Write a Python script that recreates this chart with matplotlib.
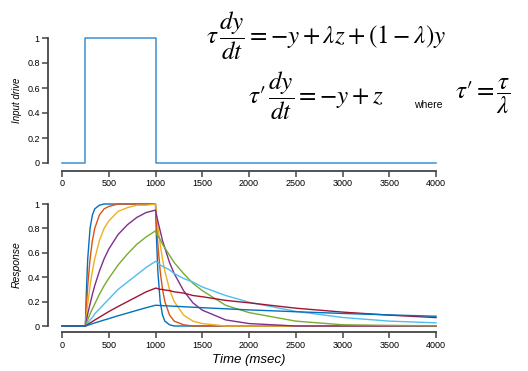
import matplotlib
matplotlib.use("Agg")
from matplotlib import pyplot as plt

plt.rcParams['font.family'] = ['Liberation Sans', 'DejaVu Sans']
plt.rcParams['mathtext.fontset'] = 'stix'

# input drive (step)
drive_t = [0, 250, 250, 1000, 1000, 4000]
drive_y = [0, 0, 1, 1, 0, 0]

# response time grid (msec)
t = [0, 250, 260, 275, 300, 325, 350, 400, 450, 500, 600, 700, 800, 900, 1000,
     1010, 1025, 1050, 1075, 1100, 1150, 1200, 1300, 1400, 1500,
     1750, 2000, 2500, 3000, 3500, 4000]

# responses, fastest to slowest
resp_1 = [0, 0, 0.27, 0.55, 0.80, 0.91, 0.96, 0.99, 1.0, 1.0, 1.0, 1.0, 1.0, 1.0, 1.0,
          0.73, 0.45, 0.20, 0.09, 0.04, 0.01, 0.0, 0.0, 0.0, 0.0,
          0.0, 0.0, 0.0, 0.0, 0.0, 0.0]
resp_2 = [0, 0, 0.15, 0.33, 0.55, 0.70, 0.80, 0.91, 0.96, 0.98, 1.0, 1.0, 1.0, 1.0, 1.0,
          0.85, 0.67, 0.45, 0.30, 0.20, 0.09, 0.04, 0.01, 0.0, 0.0,
          0.0, 0.0, 0.0, 0.0, 0.0, 0.0]
resp_3 = [0, 0, 0.08, 0.18, 0.33, 0.45, 0.55, 0.70, 0.80, 0.86, 0.94, 0.97, 0.99, 0.99, 1.0,
          0.92, 0.82, 0.67, 0.55, 0.45, 0.30, 0.20, 0.09, 0.04, 0.02,
          0.0, 0.0, 0.0, 0.0, 0.0, 0.0]
resp_4 = [0, 0, 0.04, 0.10, 0.18, 0.26, 0.33, 0.45, 0.55, 0.63, 0.75, 0.83, 0.89, 0.93, 0.95,
          0.91, 0.86, 0.78, 0.70, 0.64, 0.52, 0.43, 0.29, 0.19, 0.13,
          0.05, 0.02, 0.0, 0.0, 0.0, 0.0]
resp_5 = [0, 0, 0.02, 0.05, 0.10, 0.14, 0.18, 0.26, 0.33, 0.39, 0.50, 0.59, 0.67, 0.73, 0.78,
          0.76, 0.74, 0.71, 0.67, 0.64, 0.58, 0.52, 0.43, 0.35, 0.29,
          0.17, 0.11, 0.04, 0.01, 0.005, 0.002]
resp_6 = [0, 0, 0.01, 0.025, 0.05, 0.07, 0.10, 0.14, 0.18, 0.22, 0.30, 0.36, 0.42, 0.48, 0.53,
          0.525, 0.52, 0.50, 0.49, 0.48, 0.46, 0.43, 0.39, 0.36, 0.32,
          0.25, 0.195, 0.12, 0.07, 0.04, 0.026]
resp_7 = [0, 0, 0.005, 0.012, 0.025, 0.037, 0.049, 0.072, 0.095, 0.118, 0.16, 0.20, 0.24, 0.28, 0.31,
          0.31, 0.306, 0.30, 0.30, 0.295, 0.29, 0.28, 0.27, 0.25, 0.24,
          0.21, 0.19, 0.146, 0.114, 0.089, 0.069]
resp_8 = [0, 0, 0.0025, 0.006, 0.012, 0.019, 0.025, 0.037, 0.049, 0.06, 0.084, 0.106, 0.128, 0.15, 0.17,
          0.17, 0.169, 0.168, 0.167, 0.166, 0.164, 0.162, 0.158, 0.154, 0.15,
          0.141, 0.132, 0.117, 0.103, 0.091, 0.080]
responses = [resp_1, resp_2, resp_3, resp_4, resp_5, resp_6, resp_7, resp_8]

colors = ['#0072BD', '#D95319', '#EDB120', '#7E2F8E', '#77AC30', '#4DBEEE', '#A2142F', '#0072BD']
x_ticks = [0, 500, 1000, 1500, 2000, 2500, 3000, 3500, 4000]
y_ticks = [0, 0.2, 0.4, 0.6, 0.8, 1]
y_ticklabels = ['0', '0.2', '0.4', '0.6', '0.8', '1']

fig = plt.figure(figsize=(5.28, 3.71), dpi=100)
ax1 = fig.add_axes([62 / 528, 1 - 163 / 371, 374 / 528, 125 / 371])
ax2 = fig.add_axes([62 / 528, 1 - 326 / 371, 374 / 528, 122 / 371])


def style(ax, xoff):
    for s in ['top', 'right']:
        ax.spines[s].set_visible(False)
    ax.spines['left'].set_position(('outward', 10))
    ax.spines['bottom'].set_position(('outward', xoff))
    ax.spines['left'].set_bounds(0, 1)
    ax.spines['bottom'].set_bounds(0, 4000)
    for s in ['left', 'bottom']:
        ax.spines[s].set_color('#444444')
        ax.spines[s].set_linewidth(1.3)
    ax.set_xlim(0, 4000)
    ax.set_ylim(0, 1)
    ax.set_xticks(x_ticks)
    ax.set_xticklabels([str(v) for v in x_ticks])
    ax.set_yticks(y_ticks)
    ax.set_yticklabels(y_ticklabels)
    ax.tick_params(direction='out', length=4, width=1.1, color='#444444',
                   labelsize=6.5, pad=2)
    ax.patch.set_visible(False)


ax1.plot(drive_t, drive_y, color='#3d8fd1', lw=1.1, clip_on=False)
style(ax1, 5.5)
ax1.set_ylabel('Input drive', style='italic', fontsize=7)

for r, c in zip(responses, colors):
    ax2.plot(t, r, color=c, lw=1.0, clip_on=False)
style(ax2, 4.5)
ax2.set_ylabel('Response', style='italic', fontsize=7.5)
ax2.set_xlabel('Time (msec)', style='italic', fontsize=9.5, labelpad=3)

fig.text(206 / 528, 1 - 36 / 371,
         r"$\tau\,\dfrac{dy}{dt} = -y + \lambda z + (1 - \lambda)y$",
         fontsize=18, va='center', ha='left')
fig.text(248 / 528, 1 - 96 / 371, r"$\tau\prime\,\dfrac{dy}{dt} = -y + z$",
         fontsize=18, va='center', ha='left')
fig.text(414 / 528, 1 - 105 / 371, 'where', fontsize=7.5, va='center', ha='left')
fig.text(455 / 528, 1 - 96 / 371, r"$\tau\prime = \dfrac{\tau}{\lambda}$",
         fontsize=18, va='center', ha='left')

fig.savefig('out.png', dpi=100)
